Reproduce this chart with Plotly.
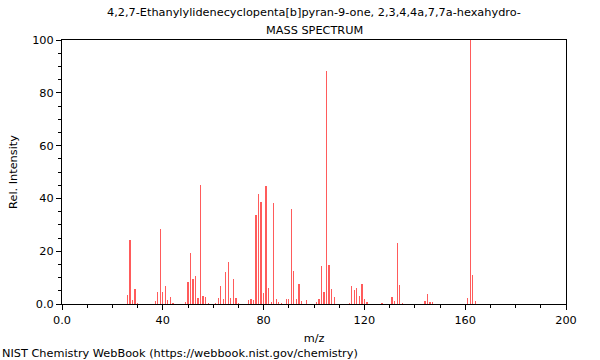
import plotly.graph_objects as go

mz = [26, 27, 28, 29, 30, 37, 38, 39, 40, 41, 42, 43, 44, 49, 50, 51, 52, 53, 54, 55,
      56, 57, 58, 61, 62, 63, 64, 65, 66, 67, 68, 69, 70, 74, 75, 76, 77, 78, 79, 80,
      81, 82, 83, 84, 85, 86, 87, 89, 90, 91, 92, 93, 94, 95, 97, 101, 102, 103, 104, 105,
      106, 107, 108, 114, 115, 116, 117, 118, 119, 120, 121, 127, 131, 132, 133, 134, 135,
      144, 145, 146, 147, 161, 162, 163, 164]
intensity = [3.4, 24.2, 1.5, 5.7, 0.5, 1.0, 4.4, 28.3, 4.7, 6.8, 1.5, 2.5, 0.5, 0.8, 8.2, 19.3, 9.6, 10.6, 2.2, 45.1,
             3.1, 2.5, 0.3, 0.5, 2.2, 6.7, 1.9, 12.2, 15.8, 2.3, 9.5, 2.3, 0.5, 1.7, 2.0, 1.5, 33.6, 41.7, 38.5, 4.0,
             44.7, 5.9, 0.8, 38.1, 2.0, 0.8, 0.3, 2.0, 2.0, 36.1, 12.6, 1.8, 7.6, 1.2, 1.5, 0.8, 1.8, 14.5, 4.7, 88.4,
             14.9, 5.7, 2.8, 0.3, 6.8, 5.3, 6.2, 3.0, 7.6, 1.8, 0.8, 0.3, 2.5, 1.3, 23.1, 7.2, 0.5,
             1.0, 3.9, 0.8, 0.8, 2.3, 100.0, 10.9, 1.0]

x_tickvals = [0, 40, 80, 120, 160, 200]
x_ticktext = ["0.0", "40", "80", "120", "160", "200"]
y_tickvals = [0, 20, 40, 60, 80, 100]
y_ticktext = ["0.0", "20", "40", "60", "80", "100"]

title_line1 = "4,2,7-Ethanylylidenecyclopenta[b]pyran-9-one, 2,3,4,4a,7,7a-hexahydro-"
title_line2 = "MASS SPECTRUM"
footer = "NIST Chemistry WebBook (https://webbook.nist.gov/chemistry)"

fig = go.Figure(go.Bar(x=mz, y=intensity, width=0.5,
                       marker=dict(color="rgba(255,50,50,0.8)", line=dict(width=0))))

FS = 11.3
font = dict(family="DejaVu Sans", size=FS, color="black")
PH = 264.0
def py(pix):
    return (304 - pix) / PH

fig.update_layout(
    width=600, height=360,
    margin=dict(l=62, r=34, t=40, b=56, autoexpand=False),
    paper_bgcolor="white", plot_bgcolor="white",
    font=font,
    showlegend=False,
    bargap=0,
    annotations=[
        dict(text=title_line1, xref="paper", yref="paper", x=0.5, y=py(13),
             xanchor="center", yanchor="middle", showarrow=False, font=font),
        dict(text=title_line2, xref="paper", yref="paper", x=0.5, y=py(30),
             xanchor="center", yanchor="middle", showarrow=False, font=font),
        dict(text=footer, xref="paper", yref="paper", x=-62/504, y=py(353),
             xanchor="left", yanchor="middle", showarrow=False, font=font),
    ],
)
fig.update_xaxes(range=[0, 200], tickvals=x_tickvals, ticktext=x_ticktext, automargin=False,
                 ticks="outside", ticklen=5, tickcolor="black",
                 showline=True, linecolor="black", linewidth=1, mirror=True,
                 showgrid=False, zeroline=False,
                 minor=dict(dtick=10, tick0=0, ticks="outside", ticklen=3, tickcolor="black", showgrid=False),
                 title=dict(text="m/z", standoff=8, font=font))
fig.update_yaxes(range=[0, 100], tickvals=y_tickvals, ticktext=y_ticktext, automargin=False,
                 ticks="outside", ticklen=5, tickcolor="black",
                 showline=True, linecolor="black", linewidth=1, mirror=True,
                 showgrid=False, zeroline=False,
                 minor=dict(dtick=5, tick0=0, ticks="outside", ticklen=3, tickcolor="black", showgrid=False),
                 title=dict(text="Rel. Intensity", standoff=12, font=font))

fig.write_html("out.html")
